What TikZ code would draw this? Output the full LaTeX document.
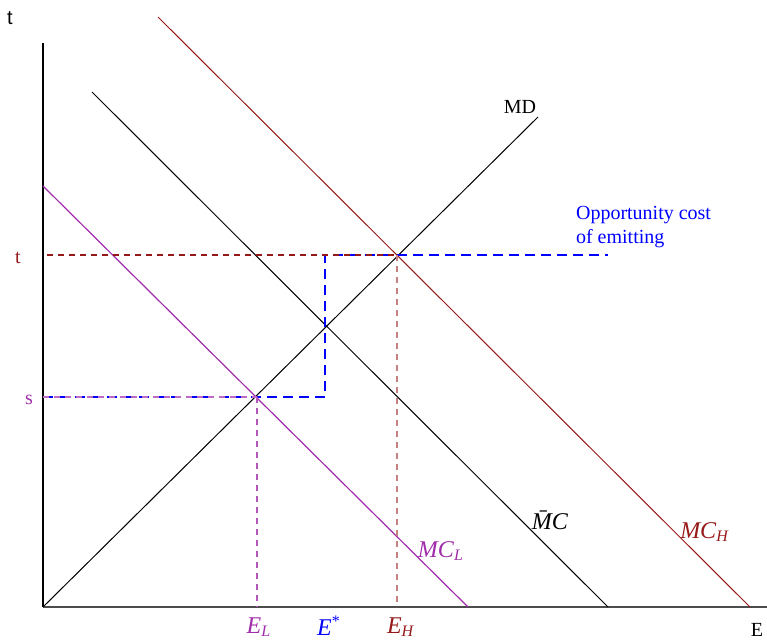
\documentclass[tikz,border=0pt]{standalone}
\usepackage{fontspec}
\setmainfont{Liberation Serif}
\newfontfamily\axisfont{Liberation Sans}
\usepackage{xcolor}
\definecolor{costred}{RGB}{150,25,25}
\definecolor{costplum}{RGB}{160,45,170}
\definecolor{costblue}{RGB}{0,0,255}
\usetikzlibrary{arrows.meta, positioning}
\newcommand{\qsub}[2]{\textit{#1}\textsubscript{\textit{#2}}}
\tikzset{
  thindash/.style={dash pattern=on 3pt off 2.5pt, line width=0.6pt},
  bluedash/.style={costblue, dash pattern=on 5pt off 3pt, line width=1pt},
  qlabel/.style={font=\large},
}
\begin{document}
\begin{tikzpicture}[x=0.5pt, y=0.5pt, >=Stealth]
  \useasboundingbox (-43,-32) rectangle (724,607);
  % axes
  \coordinate (O) at (0,0);
  \coordinate (ytop) at (0,564);
  \coordinate (xend) at (724,0);
  \draw[line width=0.6pt] (O) -- (ytop);
  \draw[line width=0.7pt, black!70] (O) -- (xend);
  \node[font=\axisfont] (tlab) at (-33,589) {t};
  \node (elab) at (714,-23) {E};
  % curves
  \coordinate (mdend) at (495,490);
  \coordinate (mcbtop) at (49,515);
  \coordinate (mcbend) at (565,0);
  \coordinate (mchtop) at (115,590);
  \coordinate (mchend) at (707,0);
  \coordinate (mcltop) at (0,421);
  \coordinate (mclend) at (425,0);
  \draw[line width=0.5pt] (O) -- (mdend);
  \draw[line width=0.5pt] (mcbtop) -- (mcbend);
  \draw[line width=0.5pt, costred] (mchtop) -- (mchend);
  \draw[line width=0.6pt, costplum] (mcltop) -- (mclend);
  \node (mdlab) at (477,500) {MD};
  \node[qlabel] (mcblab) at (507,87) {\textit{\={M}C}};
  \node[qlabel, costred] (mchlab) at (662,75) {\qsub{MC}{H}};
  \node[qlabel, costplum] (mcllab) at (398,56) {\qsub{MC}{L}};
  % levels
  \coordinate (tax) at (4,352);
  \coordinate (sax) at (0,210);
  \coordinate (high) at (354,352);
  \coordinate (low) at (214,210);
  \coordinate (star) at (282,352);
  \coordinate (stars) at (282,210);
  \coordinate (oppend) at (565,352);
  \coordinate (highx) at (354,0);
  \coordinate (lowx) at (214,0);
  \draw[bluedash] (sax) -- (stars) -- (star) -- (oppend);
  \draw[thindash, costred] (tax) -- (high);
  \draw[thindash, costred!55] (high) -- (highx);
  \draw[thindash, costplum!70] (sax) -- (low);
  \draw[thindash, costplum!80] (low) -- (lowx);
  \node[costred] (tlevel) at (-25,349) {t};
  \node[costplum] (slevel) at (-14,207) {s};
  \node[qlabel, costplum] (ellab) at (216,-20) {\qsub{E}{L}};
  \node[qlabel, costblue] (estlab) at (286,-19) {\textit{E}\textsuperscript{*}};
  \node[qlabel, costred] (ehlab) at (358,-20) {\qsub{E}{H}};
  \node[costblue, align=left, anchor=west] (opplab) at (526,380) {Opportunity cost\\of emitting};
\end{tikzpicture}
\end{document}
